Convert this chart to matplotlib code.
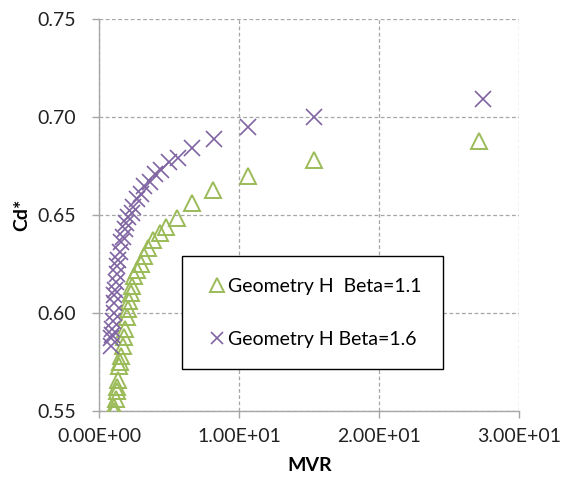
import matplotlib.pyplot as plt
from matplotlib.ticker import FuncFormatter, MultipleLocator

plt.rcParams["font.family"] = ["Lato", "DejaVu Sans"]

GREEN = "#9BBB59"
PURPLE = "#8064A2"

# Geometry H, Beta = 1.1
mvr_b11 = [27.1, 15.3, 10.6, 8.15, 6.6, 5.58, 4.76, 4.3, 3.8, 3.47, 3.2, 2.96,
           2.7, 2.5, 2.36, 2.26, 2.1, 2.06, 1.98, 1.85, 1.75, 1.67, 1.54, 1.5,
           1.4, 1.34, 1.28, 1.23, 1.16, 1.08, 1.08]
cd_b11 = [0.6876, 0.678, 0.670, 0.663, 0.656, 0.6485, 0.644, 0.641, 0.6375,
          0.633, 0.629, 0.625, 0.622, 0.619, 0.614, 0.610, 0.606, 0.602, 0.598,
          0.592, 0.588, 0.583, 0.578, 0.575, 0.573, 0.566, 0.562, 0.560, 0.556,
          0.552, 0.550]

# Geometry H, Beta = 1.6
mvr_b16 = [27.4, 15.3, 10.6, 8.17, 6.6, 5.65, 5.0, 4.37, 4.0, 3.6, 3.2, 2.96,
           2.7, 2.44, 2.3, 2.06, 1.93, 1.8, 1.67, 1.54, 1.47, 1.34, 1.29, 1.23,
           1.16, 1.1, 1.08, 1.03, 1.03, 0.95, 0.9, 0.9, 0.85, 0.85]
cd_b16 = [0.7093, 0.700, 0.695, 0.689, 0.684, 0.679, 0.677, 0.673, 0.671,
          0.667, 0.665, 0.661, 0.658, 0.654, 0.651, 0.649, 0.646, 0.643, 0.639,
          0.636, 0.631, 0.627, 0.624, 0.620, 0.616, 0.612, 0.609, 0.605, 0.600,
          0.596, 0.592, 0.589, 0.587, 0.583]

fig = plt.figure(figsize=(5.66, 4.79), dpi=100)
ax = fig.add_axes([0.1755, 0.142, 0.742, 0.818])

ax.plot(mvr_b11, cd_b11, linestyle="none", marker="^", markersize=11.5,
        markerfacecolor="none", markeredgecolor=GREEN, markeredgewidth=1.4,
        label="Geometry H  Beta=1.1", zorder=3)
ax.plot(mvr_b16, cd_b16, linestyle="none", marker="x", markersize=11,
        markeredgecolor=PURPLE, markeredgewidth=1.2,
        label="Geometry H Beta=1.6", zorder=3)

ax.set_xlim(0, 30)
ax.set_ylim(0.55, 0.75)
ax.xaxis.set_major_locator(MultipleLocator(10))
ax.yaxis.set_major_locator(MultipleLocator(0.05))
ax.xaxis.set_major_formatter(FuncFormatter(lambda v, p: f"{v:.2E}"))
ax.yaxis.set_major_formatter(FuncFormatter(lambda v, p: f"{v:.2f}"))

ax.grid(True, color="#A6A6A6", linestyle=(0, (3, 2)), linewidth=0.9)
ax.set_axisbelow(True)
for side in ("top", "right"):
    ax.spines[side].set_visible(False)
for side in ("left", "bottom"):
    ax.spines[side].set_color("#A6A6A6")
    ax.spines[side].set_linewidth(1.0)

ax.tick_params(axis="both", direction="out", length=5, width=1.0,
               color="#A6A6A6", labelsize=14, labelcolor="#222222")
ax.tick_params(axis="y", pad=12)
ax.tick_params(axis="x", pad=7)

ax.set_xlabel("MVR", fontsize=14, fontweight="bold", va="center")
ax.set_ylabel("Cd*", fontsize=14, fontweight="bold", va="center")
ax.xaxis.set_label_coords(0.5, -0.14)
ax.yaxis.set_label_coords(-0.185, 0.5)

leg = ax.legend(loc="upper left", bbox_to_anchor=(0.197, 0.395), fontsize=14,
                frameon=True, fancybox=False, edgecolor="black",
                framealpha=1, borderpad=1.1, labelspacing=1.85,
                handlelength=1.4, handletextpad=-0.15, borderaxespad=0,
                markerscale=0.85)
leg.get_frame().set_linewidth(1.0)

fig.savefig("out.png", dpi=100, facecolor="white")
